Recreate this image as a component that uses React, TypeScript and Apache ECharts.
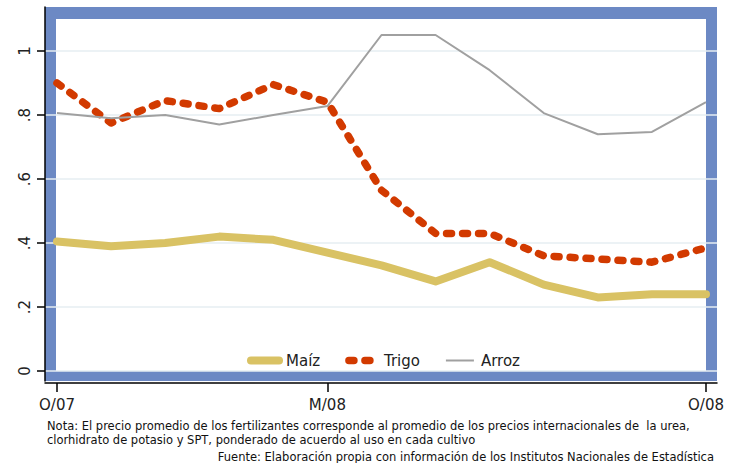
import React, { useEffect, useRef } from "react";
import * as echarts from "echarts";

// Months from October 2007 to October 2008
const months = ["O/07", "N/07", "D/07", "E/08", "F/08", "M/08", "A/08", "M/08", "J/08", "J/08", "A/08", "S/08", "O/08"];
const xTickIndex = [0, 5, 12];
const yTicks = [0, 0.2, 0.4, 0.6, 0.8, 1];

const maiz = [0.405, 0.39, 0.4, 0.42, 0.41, 0.37, 0.33, 0.28, 0.34, 0.27, 0.23, 0.24, 0.24];
const trigo = [0.9, 0.775, 0.845, 0.82, 0.895, 0.84, 0.565, 0.43, 0.43, 0.36, 0.35, 0.34, 0.385];
const arroz = [0.806, 0.79, 0.8, 0.77, 0.8, 0.828, 1.05, 1.05, 0.94, 0.806, 0.74, 0.747, 0.84];

const seriesNames = ["Maíz", "Trigo", "Arroz"];
const noteLine1 = "Nota: El precio promedio de los fertilizantes corresponde al promedio de los precios internacionales de  la urea,";
const noteLine2 = "clorhidrato de potasio y SPT, ponderado de acuerdo al uso en cada cultivo";
const source = "Fuente: Elaboración propia con información de los Institutos Nacionales de Estadística";

const FONT = "DejaVu Sans";
const NOTE_FONT = "DejaVu Sans";
const NOTE_SIZE = 11.5;

const maizStyle = { color: "#d9c264", width: 8, cap: "round", join: "round" };
const trigoStyle = { color: "#d23a00", width: 7.5, type: [5, 11], cap: "round", join: "round" };
const arrozStyle = { color: "#a0a0a0", width: 2 };

export default function App() {
  const ref = useRef<HTMLDivElement>(null);
  useEffect(() => {
    const chart = echarts.init(ref.current!, null, { renderer: "svg" });
    const pairs = (arr: number[]) => arr.map((v, i) => [i, v]);
    const fmtY = (v: number) => {
      const r = Math.round(v * 10) / 10;
      if (r === 0) return "0";
      if (r === 1) return "1";
      return String(r).replace(/^0/, "");
    };
    chart.setOption({
      animation: false,
      backgroundColor: "#ffffff",
      grid: { left: 45, top: 7, right: 18, bottom: 82, containLabel: false },
      graphic: [
        { type: "rect", z: -10, shape: { x: 45, y: 7, width: 672, height: 374 }, style: { fill: "#6c89c4" }, silent: true },
        { type: "rect", z: -9, shape: { x: 56, y: 19, width: 650, height: 352 }, style: { fill: "#ffffff" }, silent: true },
        {
          type: "text",
          x: 47,
          y: 419.5,
          style: {
            text: noteLine1 + "\n" + noteLine2,
            fontSize: NOTE_SIZE,
            lineHeight: 13.5,
            fontFamily: NOTE_FONT,
            fill: "#111",
            align: "left",
            verticalAlign: "top",
          },
        },
        { type: "text", x: 714, y: 457, style: { text: source, fontSize: NOTE_SIZE, fontFamily: NOTE_FONT, fill: "#111", align: "right", verticalAlign: "middle" } },
      ],
      legend: {
        left: 242,
        top: 348,
        itemWidth: 28,
        itemHeight: 16,
        itemGap: 25,
        data: [
          { name: seriesNames[0], lineStyle: maizStyle },
          { name: seriesNames[1], lineStyle: trigoStyle },
          { name: seriesNames[2], lineStyle: arrozStyle },
        ],
        itemStyle: { opacity: 0 },
        textStyle: { fontSize: 15, fontFamily: FONT, color: "#222", padding: [0, 0, 0, 2] },
      },
      xAxis: {
        type: "value",
        min: -0.22188,
        max: 12.2034,
        offset: 2,
        axisLine: { show: true, onZero: false, lineStyle: { color: "#000", width: 1.5 } },
        axisTick: { show: true, length: 9, customValues: xTickIndex, lineStyle: { color: "#000", width: 1.5 } },
        axisLabel: {
          customValues: xTickIndex,
          formatter: (v: number) => months[Math.round(v)] ?? "",
          fontSize: 15,
          fontFamily: FONT,
          color: "#222",
          margin: 14,
        },
        splitLine: { show: false },
      },
      yAxis: {
        type: "value",
        min: -0.03125,
        max: 1.1375,
        axisLine: { show: true, onZero: false, lineStyle: { color: "#000", width: 1.5 } },
        axisTick: { show: true, length: 8, customValues: yTicks, lineStyle: { color: "#000", width: 1.5 } },
        axisLabel: {
          customValues: yTicks,
          rotate: 90,
          formatter: fmtY,
          fontSize: 15,
          fontFamily: FONT,
          color: "#222",
          margin: 13,
        },
        splitLine: { show: true, lineStyle: { color: "#e6eef2", width: 1.5 } },
      },
      series: [
        { name: seriesNames[0], type: "line", symbol: "circle", showSymbol: false, data: pairs(maiz), color: maizStyle.color, lineStyle: maizStyle },
        { name: seriesNames[1], type: "line", symbol: "circle", showSymbol: false, data: pairs(trigo), color: trigoStyle.color, lineStyle: trigoStyle },
        { name: seriesNames[2], type: "line", symbol: "circle", showSymbol: false, data: pairs(arroz), color: arrozStyle.color, lineStyle: arrozStyle },
      ],
    });
    return () => chart.dispose();
  }, []);
  return <div ref={ref} style={{ position: "fixed", left: 0, top: 0, width: 735, height: 463 }} />;
}
